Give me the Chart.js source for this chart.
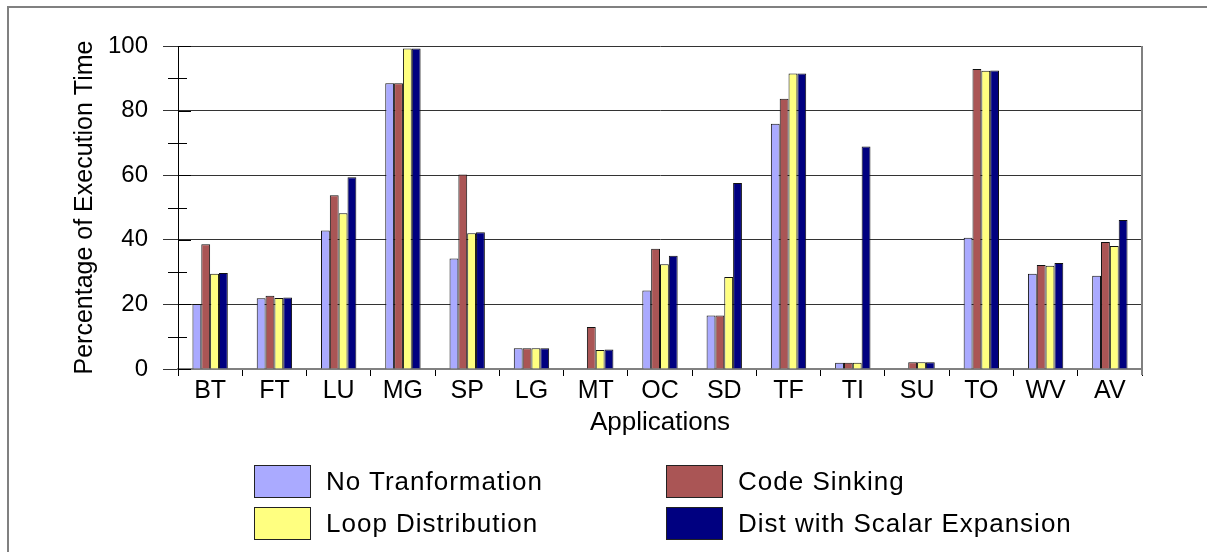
<!DOCTYPE html>
<html>
<head>
<meta charset="utf-8">
<script src="https://cdn.jsdelivr.net/npm/chart.js@4.4.0/dist/chart.umd.min.js"></script>
<style>
  body { margin: 0; background: #fff; }
  #wrap { position: relative; width: 1207px; height: 552px; overflow: hidden; font-family: "Liberation Sans", Arial, sans-serif; }
  #frame { position: absolute; left: 7px; top: 6px; right: -10px; bottom: -10px; border-top: 2px solid #808080; border-left: 2px solid #808080; }
  canvas { position: absolute; left: 0; top: 0; }
  .leg { position: absolute; display: flex; align-items: center; font-size: 26px; letter-spacing: 1px; color: #000; }
  .leg span.box { display: inline-block; width: 55px; height: 31px; border: 1px solid #222; margin-right: 15px; }
</style>
</head>
<body>
<div id="wrap">
  <div id="frame"></div>
  <canvas id="grafico" width="1207" height="552"></canvas>
  <div id="legenda"></div>
</div>
<script>
const aplicacoes = ['BT', 'FT', 'LU', 'MG', 'SP', 'LG', 'MT', 'OC', 'SD', 'TF', 'TI', 'SU', 'TO', 'WV', 'AV'];
const yTicks = [0, 20, 40, 60, 80, 100];

const semTransformacao = [20.1, 21.9, 42.9, 88.5, 34.2, 6.4, 0, 24.3, 16.6, 75.9, 1.9, 0, 40.6, 29.5, 28.9];
const codeSinking      = [38.6, 22.7, 53.8, 88.5, 60.2, 6.4, 13.0, 37.2, 16.6, 83.7, 1.9, 2.1, 92.9, 32.2, 39.3];
const loopDistribution = [29.5, 22.0, 48.2, 99.2, 42.0, 6.4, 5.9, 32.4, 28.5, 91.5, 1.9, 2.1, 92.3, 32.0, 38.1];
const distScalarExp    = [29.7, 22.1, 59.4, 99.2, 42.3, 6.4, 6.0, 35.1, 57.6, 91.5, 68.9, 2.1, 92.4, 32.8, 46.1];

const fonte = '"Liberation Sans", Arial, sans-serif';

// small ticks on the y axis and the right edge of the plot
const marcas = {
    id: 'marcas',
    afterDraw(chart) {
        const { ctx, chartArea, scales: { y } } = chart;
        ctx.save();
        ctx.strokeStyle = '#000';
        ctx.lineWidth = 1;
        for (let v = 0; v <= 100; v += 10) {
            const py = Math.round(y.getPixelForValue(v)) + 0.5;
            ctx.beginPath();
            if (v % 20) {
                ctx.moveTo(chartArea.left - 10, py);
                ctx.lineTo(chartArea.left + 9, py);
            } else {
                ctx.moveTo(chartArea.left, py);
                ctx.lineTo(chartArea.left + 13, py);
            }
            ctx.stroke();
        }
        ctx.strokeStyle = '#808080';
        ctx.lineWidth = 2;
        ctx.beginPath();
        ctx.moveTo(chartArea.right, chartArea.top);
        ctx.lineTo(chartArea.right, chartArea.bottom + 6);
        ctx.stroke();
        ctx.restore();
    }
};

const ctx = document.getElementById('grafico').getContext('2d');
const grafico = new Chart(ctx, {
    type: 'bar',
    data: {
        labels: aplicacoes,
        datasets: [
            { label: 'No Tranformation', data: semTransformacao, backgroundColor: '#AAAAFF' },
            { label: 'Code Sinking', data: codeSinking, backgroundColor: '#AA5555' },
            { label: 'Loop Distribution', data: loopDistribution, backgroundColor: '#FFFF80' },
            { label: 'Dist with Scalar Expansion', data: distScalarExp, backgroundColor: '#000080' }
        ]
    },
    options: {
        responsive: false,
        animation: false,
        layout: { padding: { left: 0, top: 46, right: 65, bottom: 113 } },
        datasets: {
            bar: { borderColor: '#111', borderWidth: 1, categoryPercentage: 0.55, barPercentage: 1 }
        },
        plugins: { legend: { display: false }, tooltip: { enabled: false } },
        scales: {
            x: {
                afterFit: s => { s.height = 70; },
                grid: { drawOnChartArea: false, offset: true, tickLength: 7, color: '#000', lineWidth: 1 },
                border: { color: '#808080', width: 2 },
                ticks: { color: '#000', font: { family: fonte, size: 25 }, padding: 0 },
                title: { display: true, text: 'Applications', color: '#000', font: { family: fonte, size: 26 }, padding: { top: 0, bottom: 1 } }
            },
            y: {
                min: 0, max: 100,
                afterFit: s => { s.width = 178; },
                afterBuildTicks: s => { s.ticks = yTicks.map(v => ({ value: v })); },
                grid: { color: '#333', lineWidth: 1, tickLength: 15 },
                border: { color: '#000', width: 1 },
                ticks: { color: '#000', font: { family: fonte, size: 24 }, padding: 15 },
                title: { display: true, text: 'Percentage of Execution Time', color: '#000', font: { family: fonte, size: 25 }, padding: { top: 70, bottom: 0 } }
            }
        }
    },
    plugins: [marcas]
});

// legenda em duas colunas
const posicoes = [
    { left: 254, top: 465 }, { left: 666, top: 465 },
    { left: 254, top: 507 }, { left: 666, top: 507 }
];
const legenda = document.getElementById('legenda');
grafico.data.datasets.forEach((ds, i) => {
    const item = document.createElement('div');
    item.className = 'leg';
    item.style.left = posicoes[i].left + 'px';
    item.style.top = posicoes[i].top + 'px';
    item.innerHTML = `<span class="box" style="background:${ds.backgroundColor}"></span>${ds.label}`;
    legenda.appendChild(item);
});
</script>
</body>
</html>
